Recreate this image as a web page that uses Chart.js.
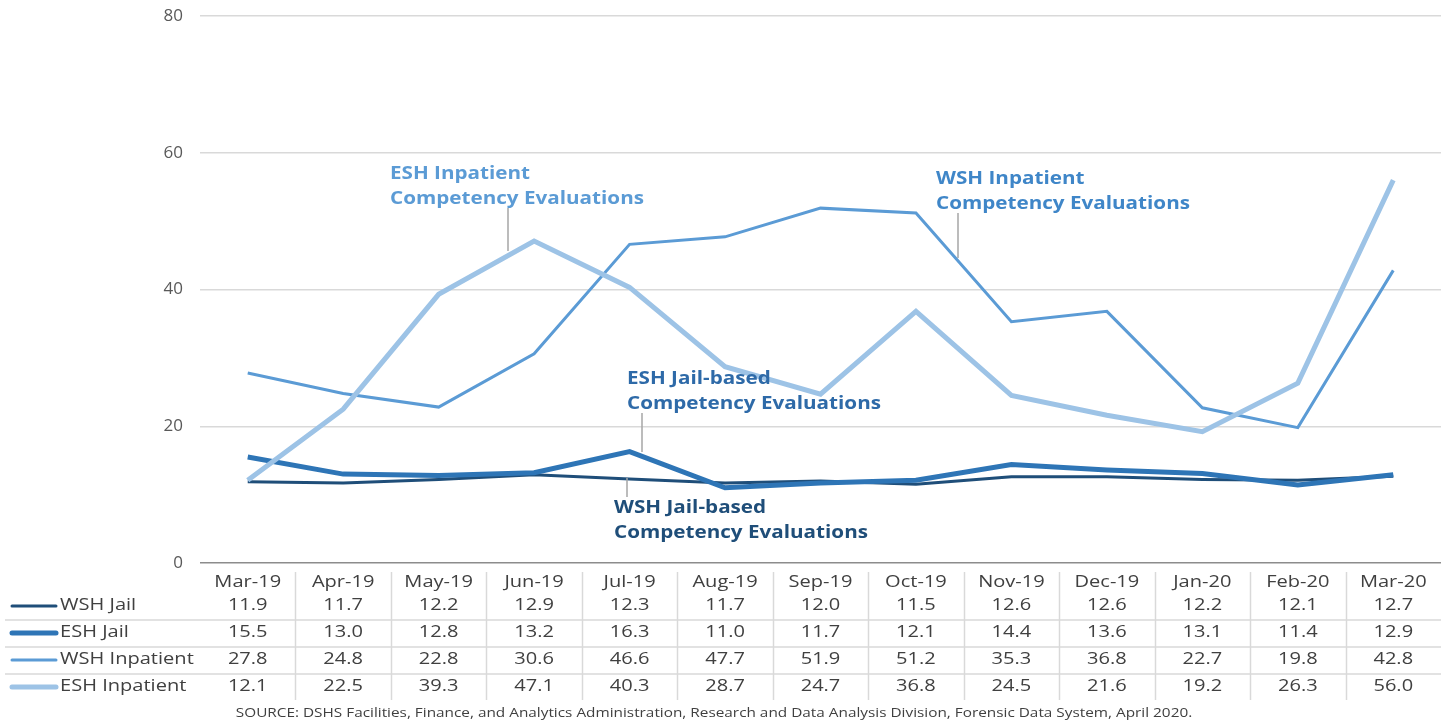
<!DOCTYPE html>
<html>
<head>
<meta charset="utf-8">
<script src="https://cdn.jsdelivr.net/npm/chart.js@4.4.1/dist/chart.umd.min.js"></script>
<style>
  html, body { margin: 0; padding: 0; background: #fff; }
  #wrap { width: 1453px; height: 723px; }
</style>
</head>
<body>
<div id="wrap"><canvas id="c"></canvas></div>
<script>
// data
const months = ["Mar-19","Apr-19","May-19","Jun-19","Jul-19","Aug-19","Sep-19","Oct-19","Nov-19","Dec-19","Jan-20","Feb-20","Mar-20"]
const wshJail = [11.9,11.7,12.2,12.9,12.3,11.7,12.0,11.5,12.6,12.6,12.2,12.1,12.7]
const eshJail = [15.5,13.0,12.8,13.2,16.3,11.0,11.7,12.1,14.4,13.6,13.1,11.4,12.9]
const wshInpatient = [27.8,24.8,22.8,30.6,46.6,47.7,51.9,51.2,35.3,36.8,22.7,19.8,42.8]
const eshInpatient = [12.1,22.5,39.3,47.1,40.3,28.7,24.7,36.8,24.5,21.6,19.2,26.3,56.0]
const seriesNames = ["WSH Jail","ESH Jail","WSH Inpatient","ESH Inpatient"]
const seriesColors = ["#1f4e79","#2e75b6","#5b9bd5","#9dc3e6"]
const seriesWidths = [3,5,3,5]
const sourceText = "SOURCE: DSHS Facilities, Finance, and Analytics Administration, Research and Data Analysis Division, Forensic Data System, April 2020."

const FONT = "'Open Sans', sans-serif"
const SX = 1.18 // the reference is stretched a bit horizontally

function stretchText(ctx, str, x, y, align){
    ctx.save()
    ctx.translate(x, y)
    ctx.scale(SX, 1)
    ctx.textAlign = align
    ctx.fillText(str, 0, 0)
    ctx.restore()
}

/* callout labels: [line1, line2, textX, textY, color, leaderX, leaderTop, leaderBottom] */
const callouts = [
    ["ESH Inpatient","Competency Evaluations",390,174,"#5b9bd5",508,208,251],
    ["WSH Inpatient","Competency Evaluations",936,179,"#3f86c8",958,213,258],
    ["ESH Jail-based","Competency Evaluations",627,379,"#2e6aa8",642,413,452],
    ["WSH Jail-based","Competency Evaluations",614,508,"#1f4e79",627,478,497]
]

const tablePlugin = {
    id: "tablePlugin",
    afterDraw(chart){
        const ctx = chart.ctx
        const x = chart.scales.x
        const area = chart.chartArea
        const half = (x.getPixelForValue(1) - x.getPixelForValue(0)) / 2
        const rows = [wshJail, eshJail, wshInpatient, eshInpatient]
        const rowY = [605, 632, 659, 686]

        ctx.save()
        ctx.strokeStyle = "#d9d9d9"
        ctx.lineWidth = 1.5

        // vertical separators
        for(let i = 1; i < months.length; i++){
            let px = Math.round(x.getPixelForValue(i) - half) + 0.5
            ctx.beginPath()
            ctx.moveTo(px, 572)
            ctx.lineTo(px, 700)
            ctx.stroke()
        }

        // horizontal separators
        ;[620, 647, 674].forEach(y => {
            ctx.beginPath()
            ctx.moveTo(5, y)
            ctx.lineTo(area.right, y)
            ctx.stroke()
        })

        ctx.fillStyle = "#404040"
        ctx.font = "17px " + FONT
        ctx.textBaseline = "middle"

        months.forEach((m, i) => {
            stretchText(ctx, m, x.getPixelForValue(i), 582, "center")
        })

        rows.forEach((r, k) => {
            // legend key
            ctx.strokeStyle = seriesColors[k]
            ctx.lineWidth = seriesWidths[k]
            ctx.lineCap = "round"
            ctx.beginPath()
            ctx.moveTo(12, rowY[k] + 1)
            ctx.lineTo(56, rowY[k] + 1)
            ctx.stroke()

            ctx.fillStyle = "#404040"
            stretchText(ctx, seriesNames[k], 60, rowY[k], "left")

            r.forEach((v, i) => {
                stretchText(ctx, v.toFixed(1), x.getPixelForValue(i), rowY[k], "center")
            })
        })

        // source note
        ctx.font = "13px " + FONT
        stretchText(ctx, sourceText, 714, 713, "center")

        // callouts
        callouts.forEach(c => {
            ctx.strokeStyle = "#a6a6a6"
            ctx.lineWidth = 1.5
            ctx.lineCap = "butt"
            ctx.beginPath()
            ctx.moveTo(c[5], c[6])
            ctx.lineTo(c[5], c[7])
            ctx.stroke()

            ctx.fillStyle = c[4]
            ctx.font = "bold 17.5px " + FONT
            stretchText(ctx, c[0], c[2], c[3], "left")
            stretchText(ctx, c[1], c[2], c[3] + 25, "left")
        })

        ctx.restore()
    }
}

const datasets = [wshJail, eshJail, wshInpatient, eshInpatient].map((d, k) => ({
    label: seriesNames[k],
    data: d,
    borderColor: seriesColors[k],
    backgroundColor: seriesColors[k],
    borderWidth: seriesWidths[k],
    pointRadius: 0,
    tension: 0,
    fill: false,
    order: 4 - k
}))

new Chart(document.getElementById("c"), {
    type: "line",
    data: { labels: months, datasets: datasets },
    options: {
        responsive: true,
        maintainAspectRatio: false,
        animation: false,
        events: [],
        layout: { padding: { top: 16, bottom: 160, right: 12, left: 0 } },
        plugins: { legend: { display: false }, tooltip: { enabled: false } },
        scales: {
            x: {
                display: false,
                offset: true
            },
            y: {
                min: 0,
                max: 80,
                afterFit: s => { s.width = 200; s.paddingTop = 0; s.paddingBottom = 0 },
                border: { display: false },
                grid: {
                    drawTicks: false,
                    lineWidth: 1.5,
                    color: c => c.tick.value === 0 ? "#8c8c8c" : "#d9d9d9"
                },
                ticks: {
                    stepSize: 20,
                    padding: 17,
                    color: "#595959",
                    font: { family: "'Open Sans', sans-serif", size: 17 }
                }
            }
        }
    },
    plugins: [tablePlugin]
})
</script>
</body>
</html>
